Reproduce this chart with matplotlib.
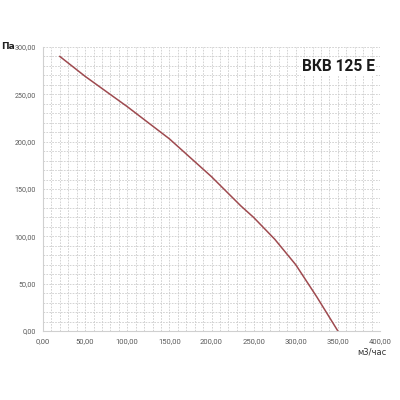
import matplotlib
matplotlib.use('Agg')
import numpy as np
from matplotlib import pyplot as plt
from matplotlib.ticker import MultipleLocator, FuncFormatter

# curve
flow = [20, 50, 100, 150, 200, 235, 250, 275, 300, 325, 350]
pressure = [290, 269, 237, 203, 163, 132, 120, 97, 70, 36, 0]

fig = plt.figure(figsize=(4, 4), dpi=100)
ax = fig.add_axes([0.1075, 0.1725, 0.8425, 0.71])

ax.set_xlim(0, 400)
ax.set_ylim(0, 300)
ax.xaxis.set_major_locator(MultipleLocator(10))
ax.yaxis.set_major_locator(MultipleLocator(10))
ax.grid(True, color='#cccccc', linestyle=(0, (2, 1.5)), linewidth=0.6)
ax.tick_params(axis='x', length=0, labelsize=5.5, labelcolor='#5a5a5a', pad=5.5)
ax.tick_params(axis='y', length=0, labelsize=5.1, labelcolor='#5a5a5a', pad=5)

fmt = FuncFormatter(lambda v, p: ('%.2f' % v).replace('.', ',') if int(round(v)) % 50 == 0 else '')
ax.xaxis.set_major_formatter(fmt)
ax.yaxis.set_major_formatter(fmt)
for lab in ax.get_xticklabels() + ax.get_yticklabels():
    lab.set_family(['Roboto', 'DejaVu Sans'])

for s in ['top', 'right']:
    ax.spines[s].set_visible(False)
for s in ['left', 'bottom']:
    ax.spines[s].set_color('#d0d0d0')
    ax.spines[s].set_linewidth(0.8)

ax.plot(flow, pressure, color='#9e4a4f', linewidth=1.1)

fig.text(0.004, 0.883, 'Па', fontsize=6.6, fontweight='bold', color='#222222', va='center')
fig.text(0.965, 0.12, 'м3/час', fontsize=6, color='#333333', ha='right', va='center')
ax.text(0.985, 0.93, 'ВКВ 125 Е', transform=ax.transAxes, ha='right', va='center',
        fontsize=11.2, fontweight='bold', color='#1a1a1a',
        family=['Roboto', 'DejaVu Sans'],
        bbox=dict(facecolor='white', edgecolor='none', pad=1))

fig.savefig('out.png', dpi=100)
